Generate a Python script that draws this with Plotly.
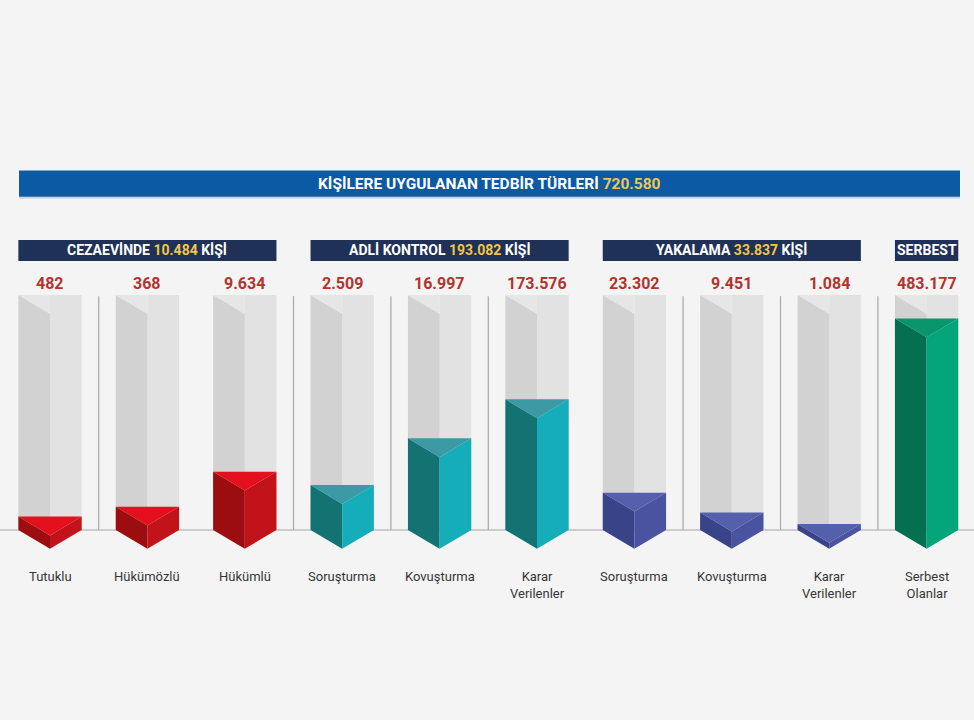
import plotly.graph_objects as go

# ---------------- data ----------------
categories = ["Tutuklu", "Hükümözlü", "Hükümlü",
              "Soruşturma", "Kovuşturma", "Karar<br>Verilenler",
              "Soruşturma", "Kovuşturma", "Karar<br>Verilenler",
              "Serbest<br>Olanlar"]
value_labels = ["482", "368", "9.634",
                "2.509", "16.997", "173.576",
                "23.302", "9.451", "1.084",
                "483.177"]
# visual fill level of each gauge (fraction of gauge height)
fill_levels = [0.057, 0.099, 0.248,
               0.191, 0.390, 0.556,
               0.159, 0.074, 0.026,
               0.900]
group_of_bar = [0, 0, 0, 1, 1, 1, 2, 2, 2, 3]
group_names = ["CEZAEVİNDE", "ADLİ KONTROL", "YAKALAMA", "SERBEST"]
group_totals = ["10.484", "193.082", "33.837", ""]
title_text = "KİŞİLERE UYGULANAN TEDBİR TÜRLERİ"
title_total = "720.580"

# ---------------- styles ----------------
W, H = 974, 720
BG = "#f4f4f4"
palette = [  # (left face, right face, top face)
    ("#9b0d0e", "#c3131a", "#e5101d"),
    ("#137373", "#14adb9", "#3b9aa4"),
    ("#394388", "#4953a0", "#5560ac"),
    ("#05704f", "#05a57b", "#0a966d"),
]
FONT = "Roboto"
half_w = 0.325     # half gauge width in x units
vdepth = 0.08      # depth of V faces in y units
separator_after = [0, 2, 3, 4, 6, 7, 8]

fig = go.Figure()
shapes = []
annotations = []

n = len(categories)
# baseline
shapes.append(dict(type="line", xref="paper", yref="y", x0=0, x1=1, y0=0, y1=0,
                   line=dict(color="#a3a3a3", width=1.2), layer="below"))
# separators
for i in separator_after:
    xm = i + 0.5
    shapes.append(dict(type="line", xref="x", yref="y", x0=xm, x1=xm, y0=0, y1=0.995,
                       line=dict(color="#a8a8a8", width=1.2), layer="below"))

def path(pts):
    return "M " + " L ".join(f"{x},{y}" for x, y in pts) + " Z"

for i in range(n):
    x0, xc, x1 = i - half_w, i, i + half_w
    # grey gauge
    shapes.append(dict(type="path", xref="x", yref="y",
                       path=path([(xc, 0), (x1, 0), (x1, 1), (xc, 1)]),
                       fillcolor="#e2e2e2", line=dict(width=0)))
    shapes.append(dict(type="path", xref="x", yref="y",
                       path=path([(x0, 0), (xc, 0), (xc, 1 - vdepth), (x0, 1)]),
                       fillcolor="#d2d2d2", line=dict(width=0)))
    shapes.append(dict(type="path", xref="x", yref="y",
                       path=path([(x0, 1), (xc, 1), (xc, 1 - vdepth)]),
                       fillcolor="#e6e6e6", line=dict(width=0)))
    # coloured prism
    lc, rc, tc = palette[group_of_bar[i]]
    t = fill_levels[i]
    shapes.append(dict(type="path", xref="x", yref="y",
                       path=path([(x0, t), (xc, t - vdepth), (xc, -vdepth), (x0, 0)]),
                       fillcolor=lc, line=dict(width=0)))
    shapes.append(dict(type="path", xref="x", yref="y",
                       path=path([(xc, t - vdepth), (x1, t), (x1, 0), (xc, -vdepth)]),
                       fillcolor=rc, line=dict(width=0)))
    shapes.append(dict(type="path", xref="x", yref="y",
                       path=path([(x0, t), (x1, t), (xc, t - vdepth)]),
                       fillcolor=tc, line=dict(width=0)))
    # value label
    annotations.append(dict(xref="x", yref="y", x=i, y=1.0, yanchor="bottom", yshift=0,
                            text=value_labels[i], showarrow=False,
                            font=dict(family=FONT, size=16, color="#b2342c", weight="bold")))
    # category label
    annotations.append(dict(xref="x", yref="y", x=i, y=-0.165, yanchor="top", yshift=2,
                            text=categories[i], showarrow=False, align="center",
                            font=dict(family=FONT, size=13, color="#363636")))

# group header boxes
for g, name in enumerate(group_names):
    idx = [i for i in range(n) if group_of_bar[i] == g]
    gx0, gx1 = min(idx) - half_w, max(idx) + half_w
    shapes.append(dict(type="rect", xref="x", yref="y", x0=gx0, x1=gx1,
                       y0=1.145, y1=1.234, fillcolor="#1f3157", line=dict(width=0)))
    if group_totals[g]:
        txt = f"{name} <span style='color:#f1c64a'>{group_totals[g]}</span> KİŞİ"
    else:
        txt = name
    annotations.append(dict(xref="x", yref="y", x=(gx0 + gx1) / 2, y=1.19,
                            text=txt, showarrow=False, yanchor="middle",
                            font=dict(family=FONT, size=14, color="white", weight="bold")))

# title band
shapes.append(dict(type="rect", xref="x", yref="y", x0=-0.318, x1=9.343,
                   y0=1.41, y1=1.418, fillcolor="#c9d4e0", line=dict(width=0)))
shapes.append(dict(type="rect", xref="x", yref="y", x0=-0.318, x1=9.343,
                   y0=1.418, y1=1.53, fillcolor="#0c5aa3", line=dict(width=0)))
annotations.append(dict(xref="x", yref="y", x=(-0.318 + 9.343) / 2, y=1.474,
                        text=f"{title_text} <span style='color:#f1c64a'>{title_total}</span>",
                        showarrow=False, yanchor="middle",
                        font=dict(family=FONT, size=15.5, color="white", weight="bold")))

# invisible trace to establish axes
fig.add_trace(go.Scatter(x=list(range(n)), y=fill_levels, mode="markers",
                         marker=dict(opacity=0), hoverinfo="skip", showlegend=False))

fig.update_layout(
    width=W, height=H, margin=dict(l=0, r=0, t=0, b=0),
    paper_bgcolor=BG, plot_bgcolor=BG,
    shapes=shapes, annotations=annotations, showlegend=False,
    xaxis=dict(range=[-50 / 97.4, (W - 50) / 97.4], visible=False, fixedrange=True),
    yaxis=dict(range=[-(H - 530) / 235, 530 / 235], visible=False, fixedrange=True),
)
fig.write_html("out.html")
